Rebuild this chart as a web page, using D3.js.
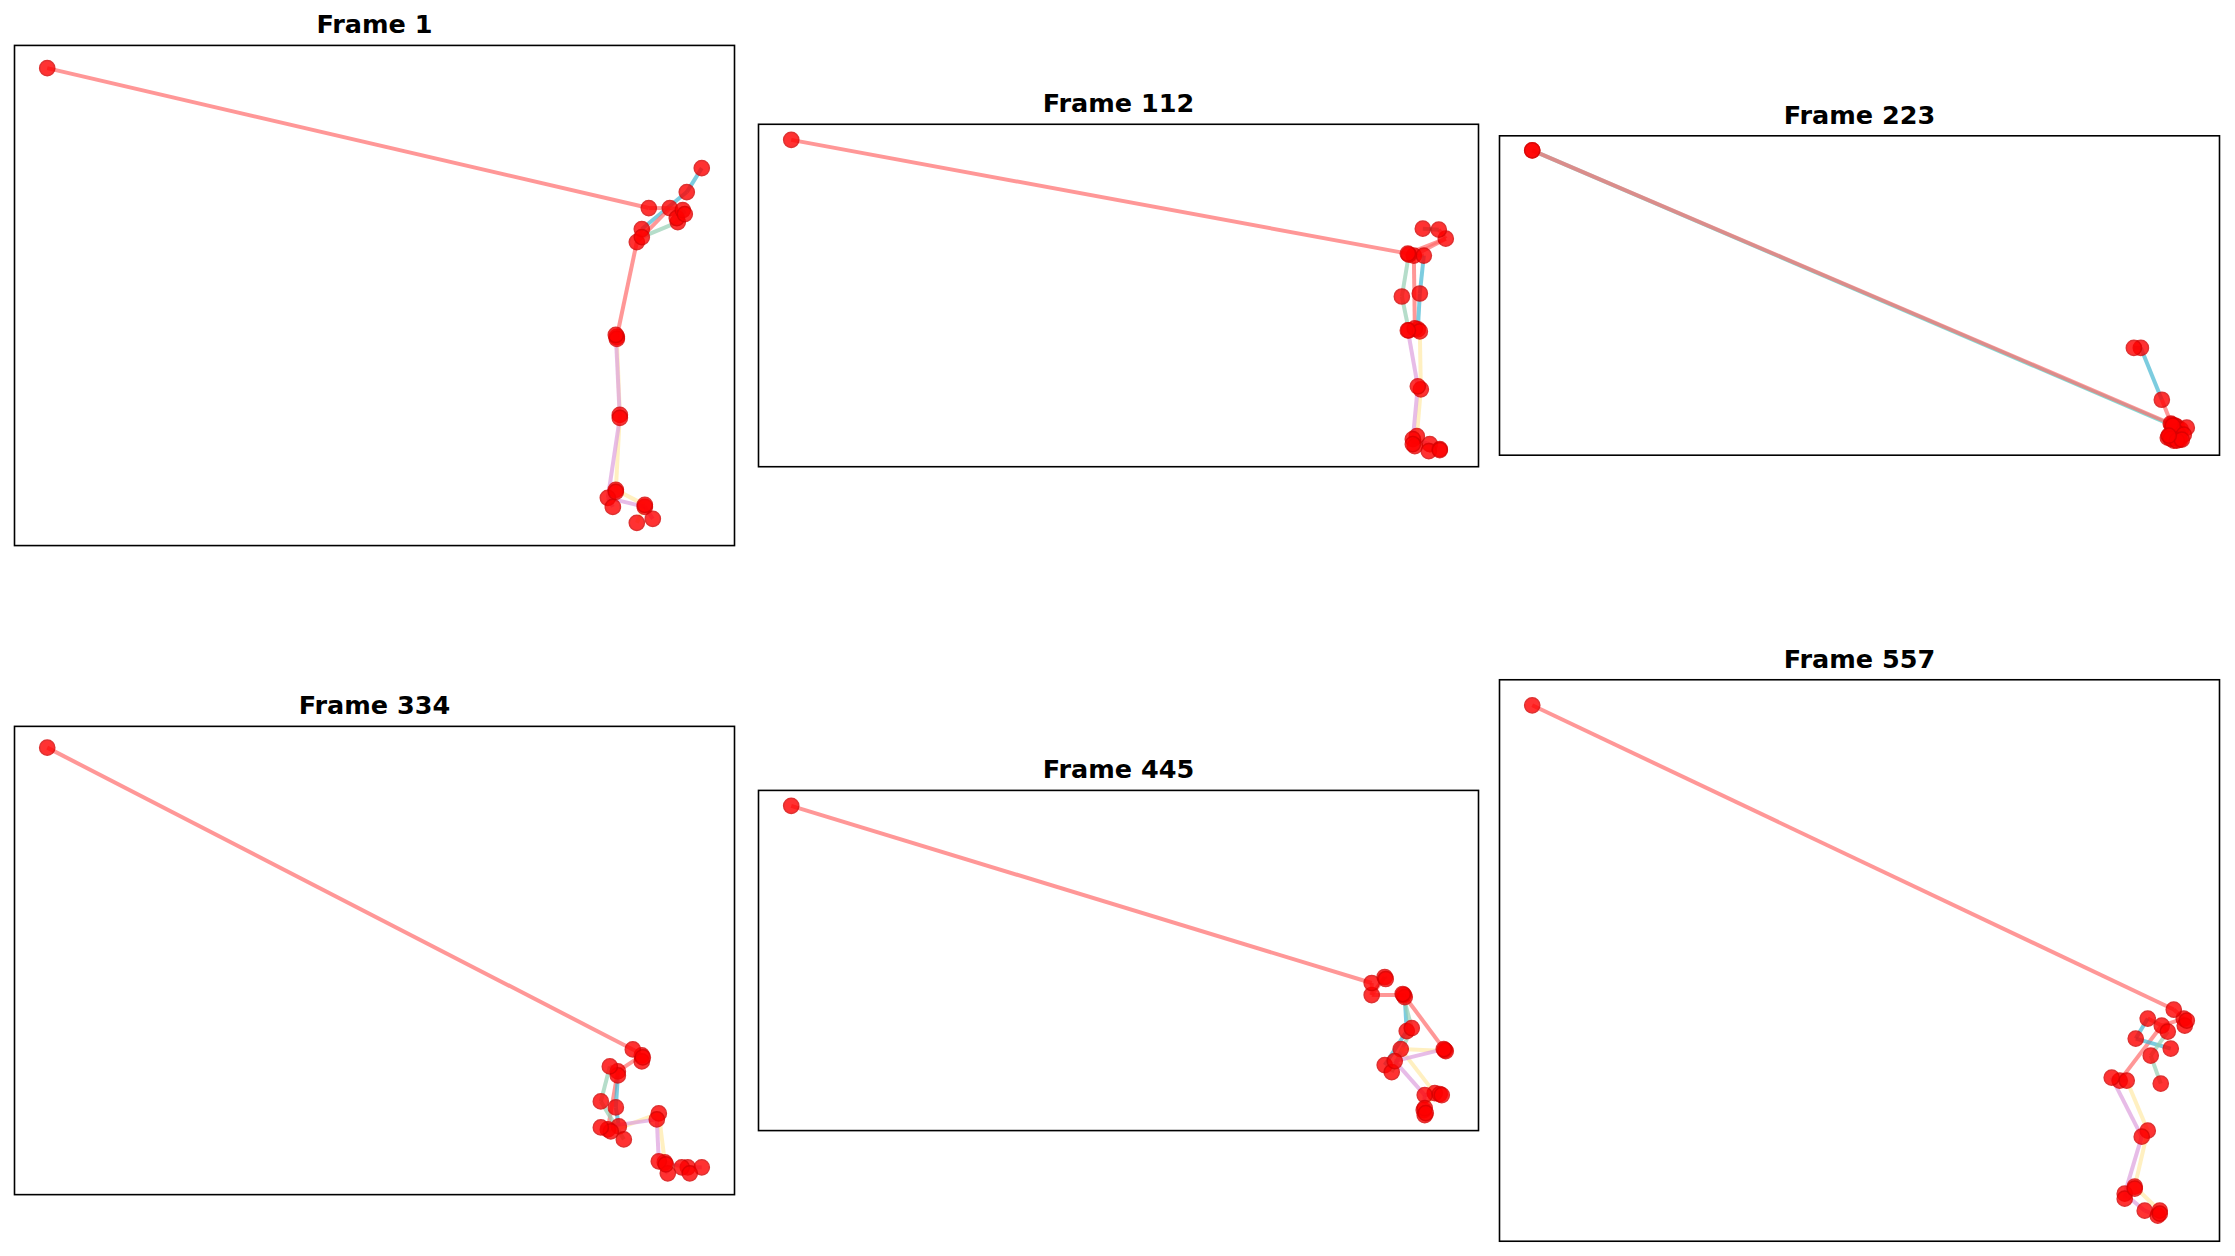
<!DOCTYPE html>
<html>
<head>
<meta charset="utf-8">
<script src="https://cdn.jsdelivr.net/npm/d3@7"></script>
<style>
  body { margin: 0; background: #fff; }
</style>
</head>
<body>
<div id="graph"></div>
<script>
const w = 2235,
      h = 1256;

// keypoints per frame, [x, y] in image units (y down), 25 points each
const frameLabels = ["Frame 1", "Frame 112", "Frame 223", "Frame 334", "Frame 445", "Frame 557"];

const frame1 = [[623,140],[590,174],[595,161],[640,124],[655,100],[595,169],[631,154],[630,150],
  [570,269],[570,271],[573,347],[569,422],[569,267],[573,350],[561,430],[602,140],[636,142],[0,0],
  [638,146],[598,439],[606,451],[566,439],[598,437],[590,455],[569,424]];
const frame112 = [[656,99],[624,116],[634,116],[630,154],[628,190],[619,115],[612,157],[619,191],
  [625,189],[630,192],[631,250],[627,297],[618,191],[628,247],[623,300],[618,114],[649,90],[0,0],
  [633,89],[640,305],[650,310],[625,307],[639,312],[650,311],[623,305]];
const frame223 = [[646,277],[641,275],[631,250],[610,198],[603,198],[644,276],[650,280],[656,278],
  [644,282],[647,284],[639,286],[637,288],[645,282],[648,289],[643,291],[640,274],[642,276],[0,0],
  [0,0],[649,290],[653,285],[640,289],[646,291],[651,290],[638,286]];
const frame334 = [[595,308],[571,324],[571,328],[569,360],[572,379],[563,319],[554,354],[577,392],
  [561,382],[564,384],[612,366],[618,415],[554,380],[610,372],[612,414],[586,302],[595,314],[0,0],
  [596,310],[641,420],[655,420],[621,426],[635,420],[643,426],[619,417]];
const frame445 = [[580,189],[612,189],[613,191],[615,225],[593,259],[611,188],[620,222],[600,266],
  [653,244],[654,245],[609,243],[643,287],[652,243],[603,255],[633,289],[580,177],[593,171],[0,0],
  [594,173],[632,304],[633,309],[648,288],[633,302],[634,307],[650,289]];
const frame557 = [[651,313],[629,320],[615,313],[603,333],[638,343],[635,326],[618,350],[628,378],
  [587,375],[594,375],[615,425],[602,481],[579,372],[609,431],[592,488],[641,304],[652,320],[0,0],
  [654,315],[612,505],[625,510],[592,493],[627,505],[627,508],[602,483]];

const frames = [frame1, frame112, frame223, frame334, frame445, frame557];

// skeleton links and their colours
const edges = [[1,8],[1,2],[1,5],[2,3],[3,4],[5,6],[6,7],[8,9],[9,10],[10,11],[8,12],[12,13],
  [13,14],[0,16],[16,18],[1,0],[0,15],[15,17],[11,22],[22,23],[11,24],[14,19],[19,20],[14,21]];
const edgeColors = ["#FF6B6B","#FF6B6B","#FF6B6B","#45B7D1","#45B7D1","#96CEB4","#96CEB4","#4ECDC4",
  "#FFEAA7","#FFEAA7","#4ECDC4","#DDA0DD","#DDA0DD","#FF6B6B","#4ECDC4","#FF6B6B","#FF6B6B","#FF6B6B",
  "#FFEAA7","#FFEAA7","#FFEAA7","#DDA0DD","#DDA0DD","#DDA0DD"];

const colX = [14.5, 758.5, 1499.5],
      rowCY = [295.5, 960.5],
      axW = 720;

const vis = d3.select("#graph")
    .append("svg")
    .attr("width", w)
    .attr("height", h)
    .style("font-family", "'DejaVu Sans', sans-serif");

frames.forEach(function(pts, fi) {
    const left = colX[fi % 3],
          cy = rowCY[Math.floor(fi / 3)];

    const xe = d3.extent(pts, function(d) { return d[0]; }),
          ye = d3.extent(pts, function(d) { return d[1]; });
    const dx = xe[1] - xe[0],
          dy = ye[1] - ye[0];
    // 5% margins, equal aspect: box height follows the data
    const axH = axW * (dy * 1.1) / (dx * 1.1),
          top = cy - axH / 2;

    const x = d3.scaleLinear()
        .domain([xe[0] - dx * 0.05, xe[1] + dx * 0.05])
        .range([left, left + axW]);
    const y = d3.scaleLinear()
        .domain([ye[0] - dy * 0.05, ye[1] + dy * 0.05])
        .range([top, top + axH]);

    const g = vis.append("g");

    g.selectAll("line.limb")
        .data(edges)
        .enter()
        .append("line")
        .attr("class", "limb")
        .attr("x1", function(d) { return x(pts[d[0]][0]); })
        .attr("y1", function(d) { return y(pts[d[0]][1]); })
        .attr("x2", function(d) { return x(pts[d[1]][0]); })
        .attr("y2", function(d) { return y(pts[d[1]][1]); })
        .style("stroke", function(d, i) { return edgeColors[i]; })
        .style("stroke-width", 4)
        .style("stroke-opacity", 0.7)
        .style("stroke-linecap", "butt");

    g.selectAll("circle.joint")
        .data(pts)
        .enter()
        .append("circle")
        .attr("class", "joint")
        .attr("cx", function(d) { return x(d[0]); })
        .attr("cy", function(d) { return y(d[1]); })
        .attr("r", 7.6)
        .style("fill", "#ff0000")
        .style("stroke", "#d80000")
        .style("stroke-width", 1.5)
        .style("opacity", 0.8);

    g.append("rect")
        .attr("x", left)
        .attr("y", top)
        .attr("width", axW)
        .attr("height", axH)
        .style("fill", "none")
        .style("stroke", "#000")
        .style("stroke-width", 1.6);

    g.append("text")
        .attr("x", left + axW / 2)
        .attr("y", top - 12)
        .attr("text-anchor", "middle")
        .attr("font-size", "25.5px")
        .attr("font-weight", "bold")
        .attr("fill", "#000")
        .text(frameLabels[fi]);
});
</script>
</body>
</html>
